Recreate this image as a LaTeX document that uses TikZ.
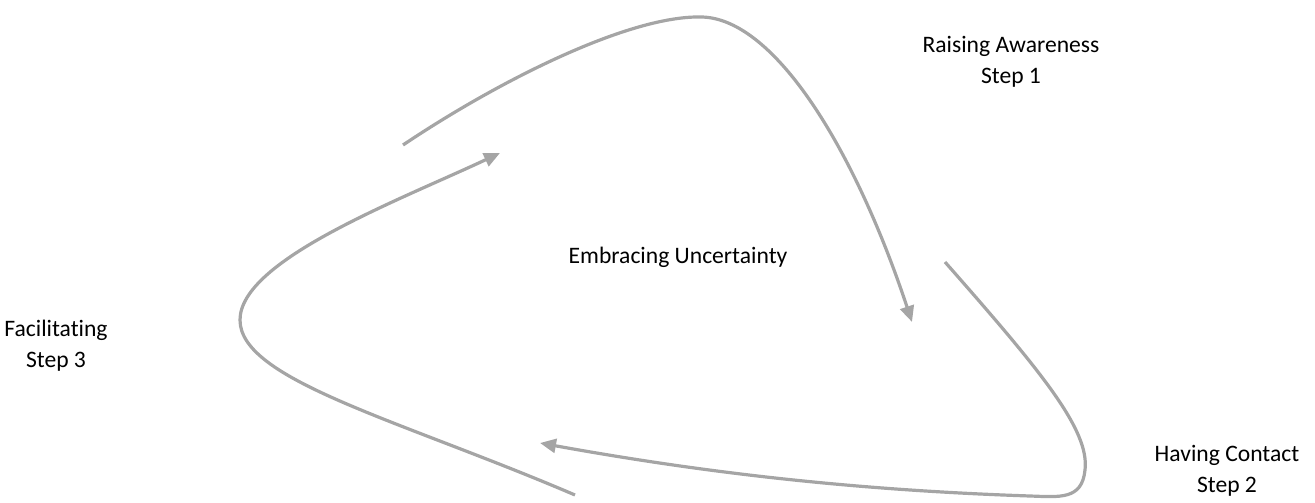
\documentclass[tikz,border=0pt]{standalone}
\usepackage{fontspec}
\setmainfont{Carlito}[Ligatures=NoCommon]
\usetikzlibrary{arrows.meta}
\definecolor{arrowgray}{HTML}{A5A5A5}
\tikzset{
  label text/.style={align=center, inner sep=0pt, font=\fontsize{17.7}{23.25}\selectfont},
  cycle line/.style={draw=arrowgray, line width=2.4pt},
  cycle arrow/.style={cycle line, -{Triangle[length=12pt,width=10.5pt]}}
}
\begin{document}
\begin{tikzpicture}[x=0.75pt,y=-0.75pt]
\useasboundingbox (0,0) rectangle (1315,503);
% labels
\node[label text] (step1) at (1011,62) {Raising Awareness\\Step 1};
\node[label text] (center) at (678,257) {Embracing Uncertainty};
\node[label text] (step3) at (56,346) {Facilitating\\Step 3};
\node[label text] (step2) at (1227,471) {Having Contact\\Step 2};
% connector end points
\coordinate (aStart) at (403,145);
\coordinate (aTop) at (702,17);
\coordinate (aEnd) at (912,322);
\coordinate (bStart) at (945,262);
\coordinate (bRight) at (1085,470);
\coordinate (bBottom) at (1030,496);
\coordinate (bEnd) at (540,443);
\coordinate (cStart) at (575,495);
\coordinate (cLeft) at (240,320);
\coordinate (cEnd) at (500,153);
% curves
\draw[cycle arrow] (aStart) .. controls (500,80) and (630,15) .. (aTop)
  .. controls (775,19) and (855,150) .. (aEnd);
\draw[cycle arrow] (bStart) .. controls (1040,370) and (1090,430) .. (bRight)
  .. controls (1082,500) and (1060,497) .. (bBottom)
  .. controls (850,490) and (700,472) .. (bEnd);
\draw[cycle arrow] (cStart) .. controls (400,420) and (240,380) .. (cLeft)
  .. controls (240,260) and (400,200) .. (cEnd);
\end{tikzpicture}
\end{document}
